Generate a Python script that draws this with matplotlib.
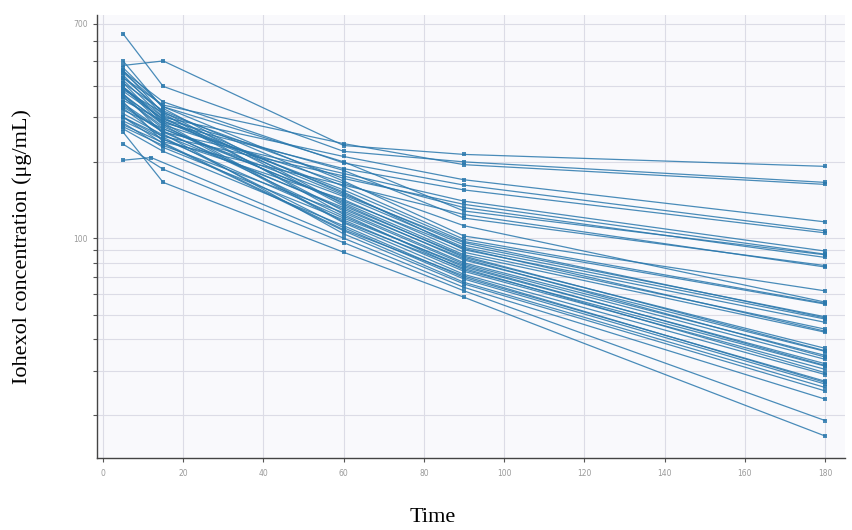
import matplotlib
matplotlib.use("Agg")
import matplotlib.pyplot as plt
import numpy as np
from matplotlib.ticker import FixedLocator, NullFormatter

# sampling times (min) shared by all subjects
times = [5, 15, 60, 90, 180]
# one subject had its second sample drawn early
off_schedule = {30: 12}

# concentrations (ug/mL) per subject at each sampling time
conc_5 = [480, 640, 430, 395, 455, 365, 330, 385, 300, 345,
          470, 410, 350, 440, 320, 380, 290, 360, 500, 310,
          420, 275, 340, 460, 285, 395, 270, 325, 300, 372,
          203, 235, 262,
          450, 390, 370, 395, 360, 430, 335, 300, 410, 280]
conc_15 = [500, 397, 335, 300, 345, 285, 262, 312, 252, 240,
           330, 318, 290, 305, 270, 295, 245, 275, 325, 255,
           300, 232, 265, 310, 228, 280, 220, 250, 236, 258,
           208, 187, 166,
           330, 295, 280, 290, 270, 315, 262, 246, 285, 238]
conc_60 = [232, 220, 236, 210, 198, 188, 180, 172, 176, 162,
           168, 160, 155, 150, 146, 152, 142, 138, 136, 132,
           128, 126, 122, 124, 118, 115, 112, 110, 107, 104,
           100, 96, 88,
           200, 185, 165, 148, 140, 134, 130, 120, 116, 108]
conc_90 = [214, 200, 195, 170, 162, 155, 140, 136, 132, 124,
           102, 99, 97, 94, 92, 90, 88, 86, 84, 82,
           80, 79, 77, 75, 74, 72, 70, 69, 67, 66,
           64, 62, 58.5,
           128, 120, 112, 96, 91, 85, 83, 78, 76, 71]
conc_180 = [192, 166, 163, 116, 107, 105, 89, 86.5, 84, 77,
            62, 55.4, 55, 49, 48, 46.6, 43.8, 42.6, 36.8, 35.8,
            34.5, 33.3, 32, 31.3, 30.4, 29, 27.3, 26.6, 25.8, 25,
            23.2, 19.1, 16.6,
            86, 78, 56, 48.5, 43, 36, 34, 31.5, 29.5, 27]

y_major = [100, 700]
y_minor = [20, 30, 40, 50, 60, 70, 80, 90, 200, 300, 400, 500, 600]
x_ticks = [0, 20, 40, 60, 80, 100, 120, 140, 160, 180]

line_color = "#2a78ad"

fig = plt.figure(figsize=(8.53, 5.30), dpi=100)
ax = fig.add_axes([0.1137, 0.136, 0.877, 0.836])
ax.set_facecolor("#f9f9fc")

conc = np.array([conc_5, conc_15, conc_60, conc_90, conc_180]).T
for i, row in enumerate(conc):
    t = list(times)
    if i in off_schedule:
        t[1] = off_schedule[i]
    ax.plot(t, row, color=line_color, linewidth=0.9, alpha=0.85,
            marker="s", markersize=2.6, markeredgewidth=0, zorder=3)

ax.set_yscale("log")
ax.set_ylim(13.6, 760)
ax.set_xlim(-1.5, 185)

ax.yaxis.set_major_locator(FixedLocator(y_major))
ax.yaxis.set_minor_locator(FixedLocator(y_minor))
ax.yaxis.set_minor_formatter(NullFormatter())
ax.set_yticklabels([str(v) for v in y_major])
ax.set_xticks(x_ticks)

ax.grid(True, which="both", color="#dcdce6", linewidth=0.8, zorder=0)
ax.set_axisbelow(True)

ax.tick_params(axis="both", which="both", colors="#555555", labelcolor="#9a9a9a",
               labelsize=5.5, length=3, width=0.8)
ax.tick_params(axis="x", pad=5)

for side in ("top", "right"):
    ax.spines[side].set_visible(False)
for side in ("left", "bottom"):
    ax.spines[side].set_color("#444444")
    ax.spines[side].set_linewidth(1.0)

fig.text(433 / 853, 1 - 518 / 530, "Time", ha="center", va="center",
         family="Liberation Serif", fontsize=16)
fig.text(22 / 853, 1 - 247 / 530, "Iohexol concentration (μg/mL)", ha="center",
         va="center", rotation=90, family="Liberation Serif", fontsize=16)

fig.savefig("out.png", dpi=100)
